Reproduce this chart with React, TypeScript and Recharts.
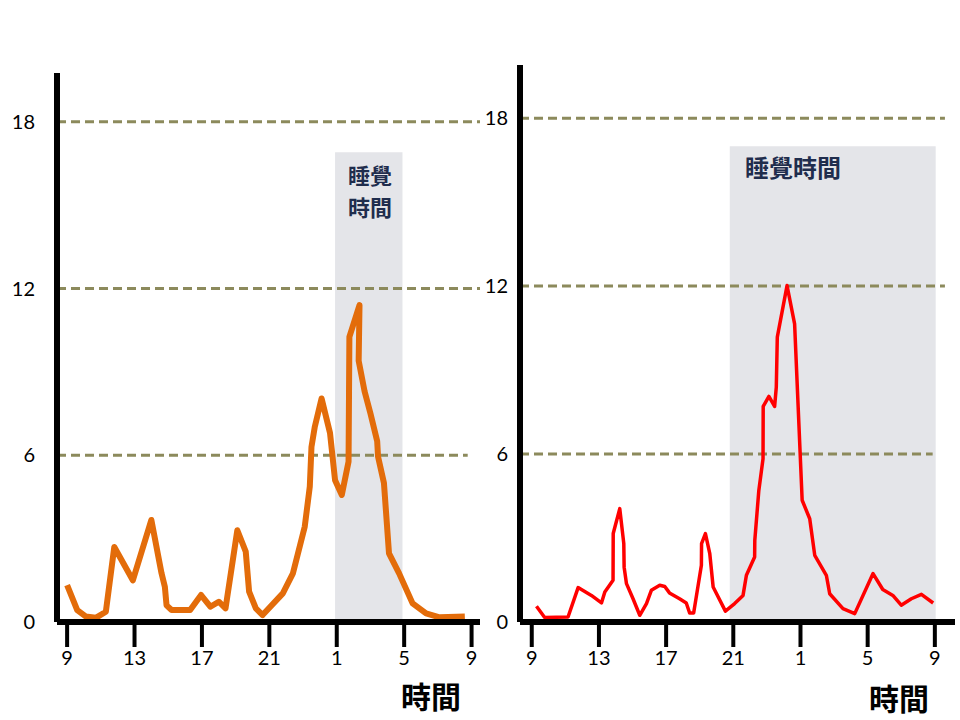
import React from 'react';
import { LineChart, Line, XAxis, YAxis, ReferenceLine, ReferenceArea } from 'recharts';

// hours are counted from 9 (morning) to 33 (9 next morning)
const hourTicks = [9, 13, 17, 21, 25, 29, 33];
const valueTicks = [0, 6, 12, 18];
const gridValues = [6, 12, 18];

const leftHours = [
  9.0, 9.6, 10.1, 10.7, 11.3, 11.8, 12.9, 14.0, 14.6, 14.8, 14.9, 15.2, 16.3, 16.95, 17.5, 18.0, 18.4,
  19.1, 19.6, 19.8, 20.2, 20.6, 21.8, 22.4, 23.1, 23.4, 23.5, 23.7, 24.1, 24.6, 24.9, 25.3, 25.7, 25.75,
  26.35, 26.3, 26.65, 27.0, 27.4, 27.45, 27.8, 28.1, 28.7, 29.5, 30.3, 31.1, 32.6,
];
const leftValues = [
  1.33, 0.43, 0.2, 0.15, 0.37, 2.7, 1.5, 3.67, 1.76, 1.27, 0.6, 0.43, 0.43, 0.97, 0.55, 0.73, 0.49,
  3.3, 2.53, 1.09, 0.49, 0.25, 1.03, 1.75, 3.43, 4.87, 6.3, 7.03, 8.04, 6.8, 5.1, 4.57, 5.77, 10.26,
  11.4, 9.4, 8.3, 7.5, 6.5, 5.95, 5.0, 2.47, 1.75, 0.67, 0.31, 0.17, 0.2,
];

const rightHours = [
  9.28, 9.77, 11.16, 11.76, 12.55, 13.15, 13.35, 13.84, 13.85, 14.24, 14.48, 14.5, 14.64, 15.03, 15.43,
  15.83, 16.12, 16.62, 16.92, 17.2, 17.8, 18.2, 18.4, 18.64, 19.1, 19.11, 19.34, 19.6, 19.8, 20.53,
  21.08, 21.58, 21.78, 22.27, 22.28, 22.52, 22.77, 22.78, 23.12, 23.46, 23.56, 23.62, 24.2, 24.65,
  25.1, 25.55, 25.85, 26.54, 26.74, 27.53, 28.23, 29.32, 29.9, 30.5, 31.0, 31.6, 32.2, 32.9,
];
const rightValues = [
  0.56, 0.16, 0.18, 1.23, 0.95, 0.68, 1.07, 1.49, 3.16, 4.05, 2.8, 1.96, 1.37, 0.83, 0.24,
  0.66, 1.13, 1.31, 1.27, 1.04, 0.83, 0.68, 0.32, 0.32, 2.03, 2.8, 3.16, 2.44, 1.25, 0.39,
  0.66, 0.95, 1.67, 2.32, 2.92, 4.7, 5.83, 7.7, 8.06, 7.7, 8.39, 10.18, 12.02, 10.65,
  4.35, 3.69, 2.38, 1.67, 1.01, 0.48, 0.3, 1.73, 1.16, 0.95, 0.6, 0.83, 0.99, 0.68,
];

const leftData = leftHours.map((h, i) => ({ h, v: leftValues[i] }));
const rightData = rightHours.map((h, i) => ({ h, v: rightValues[i] }));

const fmtHour = (h: number) => String(h > 24 ? h - 24 : h);

const gridColor = '#8C8A5C';
const shadeColor = '#E4E5E9';
const tickFont = { fill: '#000', fontSize: 20, fontFamily: 'Lato, "Open Sans", sans-serif' };

const sleepText: React.CSSProperties = {
  position: 'absolute',
  fontFamily: '"Noto Sans CJK TC", sans-serif',
  fontWeight: 700,
  fontSize: 22,
  lineHeight: '22px',
  color: '#1F2D4D',
  textAlign: 'center',
};

const axisTitle: React.CSSProperties = {
  position: 'absolute',
  fontFamily: '"Noto Sans CJK TC", sans-serif',
  fontWeight: 700,
  fontSize: 30,
  lineHeight: '30px',
  color: '#000',
};

const App: React.FC = () => {
  return (
    <div lang="zh-Hant" style={{ position: 'absolute', left: 0, top: 0, width: 960, height: 720, background: '#fff' }}>
      <div style={{ position: 'absolute', left: 0, top: 0 }}>
        <LineChart width={480} height={720} data={leftData} margin={{ top: 73, right: 0, bottom: 38, left: 0 }}>
          <ReferenceArea x1={24.9} x2={28.9} y1={0} y2={16.9} fill={shadeColor} fillOpacity={1} stroke="none" />
          {gridValues.map((g) => (
            <ReferenceLine
              key={g}
              segment={[{ x: 8.4, y: g }, { x: g === 6 ? 32.77 : 33.5, y: g }]}
              stroke={gridColor}
              strokeWidth={3}
              strokeDasharray="9 5"
            />
          ))}
          <XAxis
            type="number"
            dataKey="h"
            domain={[8.4, 33.5]}
            ticks={hourTicks}
            tickFormatter={fmtHour}
            height={60}
            axisLine={{ stroke: '#000', strokeWidth: 6 }}
            tickLine={{ stroke: '#000', strokeWidth: 4 }}
            tickSize={25}
            tickMargin={4}
            tick={tickFont}
            allowDataOverflow
          />
          <YAxis
            type="number"
            domain={[0, 19.75]}
            ticks={valueTicks}
            width={57}
            axisLine={{ stroke: '#000', strokeWidth: 6 }}
            tickLine={false}
            tickSize={0}
            tickMargin={22}
            tick={tickFont}
            allowDataOverflow
          />
          <Line
            type="linear"
            dataKey="v"
            stroke="#E36C0A"
            strokeWidth={6}
            dot={false}
            strokeLinejoin="round"
            isAnimationActive={false}
          />
        </LineChart>
      </div>

      <div style={{ position: 'absolute', left: 480, top: 0 }}>
        <LineChart width={480} height={720} data={rightData} margin={{ top: 65, right: 5, bottom: 38, left: 0 }}>
          <ReferenceArea x1={20.79} x2={33.05} y1={0} y2={17.0} fill={shadeColor} fillOpacity={1} stroke="none" />
          {gridValues.map((g) => (
            <ReferenceLine
              key={g}
              segment={[{ x: 8.3, y: g }, { x: g === 6 ? 32.87 : 33.6, y: g }]}
              stroke={gridColor}
              strokeWidth={3}
              strokeDasharray="9 5"
            />
          ))}
          <XAxis
            type="number"
            dataKey="h"
            domain={[8.3, 34.2]}
            ticks={hourTicks}
            tickFormatter={fmtHour}
            height={60}
            axisLine={{ stroke: '#000', strokeWidth: 6 }}
            tickLine={{ stroke: '#000', strokeWidth: 4 }}
            tickSize={25}
            tickMargin={4}
            tick={tickFont}
            allowDataOverflow
          />
          <YAxis
            type="number"
            domain={[0, 19.9]}
            ticks={valueTicks}
            width={40}
            axisLine={{ stroke: '#000', strokeWidth: 6 }}
            tickLine={false}
            tickSize={0}
            tickMargin={12}
            tick={tickFont}
            allowDataOverflow
          />
          <Line
            type="linear"
            dataKey="v"
            stroke="#FF0000"
            strokeWidth={3.5}
            dot={false}
            strokeLinejoin="round"
            isAnimationActive={false}
          />
        </LineChart>
      </div>

      <div style={{ ...sleepText, left: 340, top: 163, width: 60 }}>睡覺</div>
      <div style={{ ...sleepText, left: 340, top: 195, width: 60 }}>時間</div>
      <div style={{ ...sleepText, left: 733, top: 155, width: 120, fontSize: 24, lineHeight: '24px' }}>睡覺時間</div>

      <div style={{ ...axisTitle, left: 401, top: 680 }}>時間</div>
      <div style={{ ...axisTitle, left: 869, top: 682 }}>時間</div>
    </div>
  );
};

export default App;
